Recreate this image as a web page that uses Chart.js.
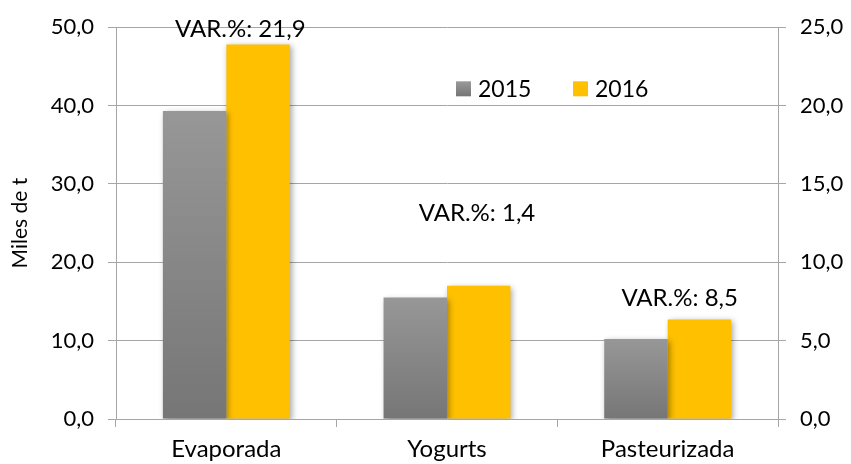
<!DOCTYPE html>
<html>
<head>
<meta charset="utf-8">
<script src="https://cdn.jsdelivr.net/npm/chart.js@4.4.0/dist/chart.umd.min.js"></script>
<style>
  html, body { margin: 0; padding: 0; background: #fff; }
  #wrap { width: 851px; height: 464px; }
</style>
</head>
<body>
<div id="wrap"><canvas id="chart"></canvas></div>
<script>
// data
const categories = ["Evaporada", "Yogurts", "Pasteurizada"];
const values2015 = [39.3, 15.5, 10.2];
const values2016 = [47.8, 17.0, 12.7];
const seriesNames = ["2015", "2016"];
const varLabels = ["VAR.%: 21,9", "VAR.%: 1,4", "VAR.%: 8,5"];
// where each VAR label sits (value on left axis)
const varLabelValues = [49.7, 26.3, 15.4];

const FONT = "Lato, 'Open Sans', sans-serif";
const GRID = "#a6a6a6";

function grayGradient(context) {
    const chart = context.chart;
    const area = chart.chartArea;
    if (!area || context.type !== "data") return "#888888";
    const y = chart.scales.y;
    const top = y.getPixelForValue(context.raw);
    const bottom = y.getPixelForValue(0);
    const g = chart.ctx.createLinearGradient(0, top, 0, bottom);
    g.addColorStop(0, "#979797");
    g.addColorStop(1, "#767676");
    return g;
}

// soft shadow behind the bars
const barShadow = {
    id: "barShadow",
    beforeDatasetsDraw(chart) {
        const ctx = chart.ctx;
        ctx.save();
        ctx.shadowColor = "rgba(0,0,0,0.35)";
        ctx.shadowBlur = 6;
        ctx.shadowOffsetX = 2;
        ctx.shadowOffsetY = 2;
    },
    afterDatasetsDraw(chart) {
        chart.ctx.restore();
    }
};

// VAR.% notes, legend and axis title
const notes = {
    id: "notes",
    afterDraw(chart) {
        const ctx = chart.ctx;
        const x = chart.scales.x;
        const y = chart.scales.y;
        const shifts = [14, 30, 12];
        ctx.save();
        ctx.font = "24px " + FONT;
        ctx.fillStyle = "#000";
        ctx.textAlign = "center";
        ctx.textBaseline = "middle";
        varLabels.forEach((txt, i) => {
            ctx.fillText(txt, x.getPixelForValue(i) + shifts[i], y.getPixelForValue(varLabelValues[i]));
        });

        // legend
        const ly = y.getPixelForValue(42.2);
        const items = [
            { x: 456, color: "#8a8a8a" },
            { x: 573, color: "#FFC000" }
        ];
        ctx.font = "23px " + FONT;
        ctx.textAlign = "left";
        items.forEach((it, i) => {
            if (i === 0) {
                const g = ctx.createLinearGradient(0, ly - 7, 0, ly + 7);
                g.addColorStop(0, "#9a9a9a");
                g.addColorStop(1, "#777");
                ctx.fillStyle = g;
            } else {
                ctx.fillStyle = it.color;
            }
            ctx.fillRect(it.x, ly - 7, 15, 15);
            ctx.fillStyle = "#000";
            ctx.fillText(seriesNames[i], it.x + 22, ly + 1);
        });

        // rotated axis title
        ctx.font = "21px " + FONT;
        ctx.textAlign = "center";
        ctx.translate(20, (y.top + y.bottom) / 2);
        ctx.rotate(-Math.PI / 2);
        ctx.fillText("Miles de t", 0, 0);
        ctx.restore();
    }
};

new Chart(document.getElementById("chart"), {
    type: "bar",
    data: {
        labels: categories,
        datasets: [
            {
                label: seriesNames[0],
                data: values2015,
                backgroundColor: grayGradient,
                categoryPercentage: 0.575,
                barPercentage: 1.0
            },
            {
                label: seriesNames[1],
                data: values2016,
                backgroundColor: "#FFC000",
                categoryPercentage: 0.575,
                barPercentage: 1.0
            }
        ]
    },
    options: {
        responsive: true,
        maintainAspectRatio: false,
        animation: false,
        layout: { padding: { top: 14, bottom: 0, left: 0, right: 0 } },
        plugins: {
            legend: { display: false },
            tooltip: { enabled: false }
        },
        scales: {
            x: {
                grid: {
                    offset: true,
                    drawOnChartArea: false,
                    color: GRID,
                    tickLength: 8
                },
                border: { color: GRID },
                ticks: {
                    color: "#000",
                    font: { family: FONT, size: 24 },
                    padding: 8
                },
                afterFit(scale) { scale.height = 45; }
            },
            y: {
                position: "left",
                min: 0,
                max: 50,
                ticks: {
                    stepSize: 10,
                    color: "#000",
                    padding: 14,
                    font: { family: FONT, size: 22 },
                    callback: v => v.toFixed(1).replace(".", ",")
                },
                grid: { color: GRID, tickLength: 8 },
                border: { color: GRID },
                afterFit(scale) { scale.width = 116; }
            },
            y2: {
                position: "right",
                min: 0,
                max: 25,
                ticks: {
                    stepSize: 5,
                    color: "#000",
                    padding: 14,
                    font: { family: FONT, size: 22 },
                    callback: v => v.toFixed(1).replace(".", ",")
                },
                grid: { drawOnChartArea: false, color: GRID, tickLength: 8 },
                border: { color: GRID },
                afterFit(scale) { scale.width = 73; }
            }
        }
    },
    plugins: [barShadow, notes]
});
</script>
</body>
</html>
